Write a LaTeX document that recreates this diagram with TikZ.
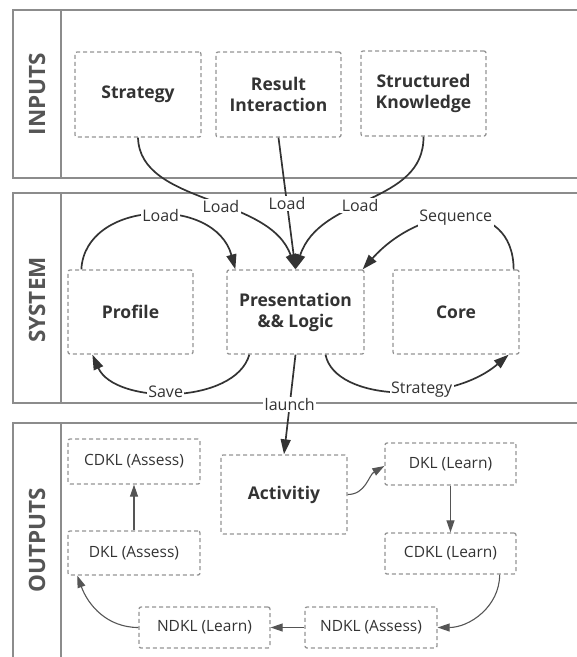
\documentclass[tikz,border=0pt]{standalone}
\usepackage{fontspec}
\setmainfont{Open Sans}
\usepackage{xcolor}
\usepackage{tikz}
\usetikzlibrary{positioning, arrows.meta}

\definecolor{ink}{HTML}{333333}
\definecolor{rule}{HTML}{8C8C8C}
\definecolor{dash}{HTML}{959595}
\definecolor{thin}{HTML}{555555}

\tikzset{
  panel/.style={draw=rule, line width=1.3pt},
  title/.style={rotate=90, text=thin, font=\bfseries\fontsize{22.5}{26}\selectfont},
  unit/.style={draw=dash, dash pattern=on 4pt off 3pt, line width=1.3pt, rounded corners=2pt,
    fill=white, align=center, text=ink, font=\bfseries\fontsize{17.5}{21}\selectfont},
  kbox/.style={unit, font=\fontsize{15.5}{18}\selectfont},
  flow/.style={draw=ink, line width=1.7pt, -{Triangle[length=15pt,width=10pt]}},
  link/.style={draw=thin, line width=1.1pt, -{Triangle[length=12pt,width=8pt]}},
  lbl/.style={fill=white, inner sep=1.5pt, text=ink, font=\fontsize{16}{18}\selectfont}
}

\begin{document}
\begin{tikzpicture}[x=1pt, y=-1pt]
  \useasboundingbox (0,0) rectangle (577,657);
  \clip (0,0) rectangle (577,657);

  % Panels
  \draw[panel] (13,10) rectangle (600,178); \draw[panel] (61,10) -- (61,178);
  \draw[panel] (13,193) rectangle (600,403); \draw[panel] (61,193) -- (61,403);
  \draw[panel] (13,423) rectangle (600,700); \draw[panel] (61,423) -- (61,700);
  \node[title] (tin) at (37,94) {INPUTS};
  \node[title] (tsys) at (37,300) {SYSTEM};
  \node[title] (tout) at (37,540) {OUTPUTS};

  % Inputs
  \node[unit, minimum width=126pt, minimum height=85pt] (strategy) at (138,94.5) {Strategy};
  \node[unit, minimum width=125pt, minimum height=85pt] (result) at (278.5,94.5) {Result\\Interaction};
  \node[unit, minimum width=125pt, minimum height=85pt] (knowledge) at (423.5,93.5) {Structured\\Knowledge};

  % System
  \node[unit, minimum width=125pt, minimum height=84pt] (profile) at (130.5,312) {Profile};
  \node[unit, minimum width=137pt, minimum height=84pt] (logic) at (295.5,312) {Presentation\\\&\& Logic};
  \node[unit, minimum width=126pt, minimum height=84pt] (core) at (456,312) {Core};

  % Outputs
  \node[kbox, minimum width=132pt, minimum height=45pt] (cdklA) at (134,461.5) {CDKL (Assess)};
  \node[kbox, minimum width=132pt, minimum height=44pt] (dklA) at (134,553) {DKL (Assess)};
  \node[unit, minimum width=126pt, minimum height=79pt] (activity) at (284,494.5) {Activitiy};
  \node[kbox, minimum width=131pt, minimum height=42pt] (dklL) at (450.5,464) {DKL (Learn)};
  \node[kbox, minimum width=131pt, minimum height=41pt] (cdklL) at (450.5,553.5) {CDKL (Learn)};
  \node[kbox, minimum width=131pt, minimum height=41pt] (ndklL) at (204.5,627.5) {NDKL (Learn)};
  \node[kbox, minimum width=132pt, minimum height=41pt] (ndklA) at (371,627.5) {NDKL (Assess)};

  % Loading into the logic
  \draw[flow] (strategy.south) .. controls (140,205) and (270,195) .. node[lbl, pos=0.56] {Load} (logic.north);
  \draw[flow] (result.south) -- node[lbl, pos=0.5] {Load} (logic.north);
  \draw[flow] (knowledge.south) .. controls (424,205) and (320,195) .. node[lbl, pos=0.55] {Load} (logic.north);

  \draw[flow] ([xshift=14pt]profile.north west) .. controls (85,200) and (215,195) .. node[lbl, pos=0.54] {Load} ([xshift=9pt]logic.north west);
  \draw[flow] ([xshift=23pt]logic.south west) .. controls (235,405) and (115,405) .. node[lbl, pos=0.54] {Save} ([xshift=25pt]profile.south west);
  \draw[flow] ([xshift=-6pt]core.north east) .. controls (513,195) and (420,205) .. node[lbl, pos=0.52] {Sequence} ([xshift=-2pt]logic.north east);
  \draw[flow] ([xshift=30pt]logic.south) .. controls (335,402) and (450,405) .. node[lbl, pos=0.6] {Strategy} ([xshift=-11pt]core.south east);
  \draw[flow] (logic.south) -- node[lbl, pos=0.5] {launch} (activity.north);

  % Knowledge levels
  \draw[link] (activity.east) to[out=0, in=210] ([yshift=-2pt]dklL.west);
  \draw[link] (dklL) -- (cdklL);
  \draw[link] ([xshift=-17pt]cdklL.south east) to[out=-90, in=0] (ndklA.east);
  \draw[link] (ndklA) -- (ndklL);
  \draw[link] (ndklL.west) to[out=180, in=-70] ([xshift=10pt]dklA.south west);
  \draw[link] (dklA) -- (cdklA);
\end{tikzpicture}
\end{document}
